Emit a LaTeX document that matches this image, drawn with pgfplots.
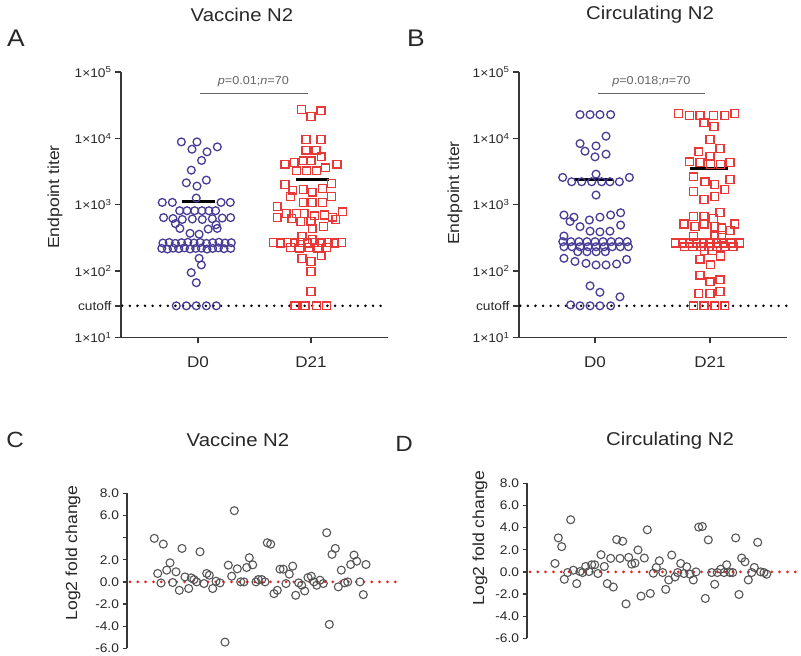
\documentclass[border=0pt]{standalone}
\usepackage{pgfplots}
\pgfplotsset{compat=1.18}
\usepackage{fontspec}
\setmainfont{Liberation Sans}[FakeStretch=1.1]
\definecolor{purp}{RGB}{70,60,150}
\definecolor{sqred}{RGB}{232,56,56}
\definecolor{axcol}{RGB}{55,55,55}
\definecolor{txtcol}{RGB}{40,40,40}
\definecolor{pgray}{RGB}{100,100,100}
\definecolor{cgray}{RGB}{85,85,85}
\definecolor{dotred}{RGB}{225,35,35}
\pgfplotsset{
 mytopax/.style={
   scale only axis, anchor=south west, clip=false,
   ymin=10, ymax=100000, height=265.5pt,
   axis x line*=bottom, axis y line*=left,
   axis line style={draw=axcol, line width=1.5pt},
   tick style={draw=axcol, line width=1.4pt},
   major tick length=6pt, tick align=outside,
   yminorticks=false, xminorticks=false,
   xtick={1,2}, xticklabels={D0,D21},
   ytick={10,30,100,1000,10000,100000},
   yticklabels={1×10\textsuperscript{1},cutoff,1×10\textsuperscript{2},1×10\textsuperscript{3},1×10\textsuperscript{4},1×10\textsuperscript{5}},
   yticklabel style={font=\fontsize{12.5}{14}\selectfont, text=txtcol},
   xticklabel style={font=\fontsize{15.5}{17}\selectfont, text=txtcol, yshift=-10pt},
 },
 mybotax/.style={
   scale only axis, anchor=south west, clip=false,
   ymin=-6, ymax=8, height=155pt,
   axis y line*=left, axis x line=none,
   axis line style={draw=axcol, line width=1.5pt},
   tick style={draw=axcol, line width=1.3pt},
   major tick length=4.5pt, tick align=outside,
   ytick={-6,-4,-2,0,2,4,6,8}, xtick=\empty,
   yticklabel style={font=\fontsize{12.5}{14}\selectfont, text=txtcol},
 },
 mycirc/.style={only marks, mark=o, mark size=3.9pt, mark options={draw=purp, line width=1.3pt}},
 mysq/.style={only marks, mark=square, mark size=3.9pt, mark options={draw=sqred, line width=1.3pt}},
 mygc/.style={only marks, mark=o, mark size=4pt, mark options={draw=cgray, line width=1.1pt}},
 mycutl/.style={black, line width=2.8pt, line cap=round, dash pattern=on 0pt off 7.6pt},
 myredl/.style={dotred, line width=3pt, line cap=round, dash pattern=on 0pt off 7.8pt},
 mymeanl/.style={black, line width=3pt},
}
\begin{document}
\begin{tikzpicture}
\path[use as bounding box] (0,0) rectangle (801pt,-656pt);
% titles and labels
\node[font=\fontsize{18.5}{20}\selectfont, text=txtcol] at (242pt,-15pt) {Vaccine N2};
\node[font=\fontsize{18.5}{20}\selectfont, text=txtcol] at (650pt,-15pt) {Circulating N2};
\node[font=\fontsize{24}{26}\selectfont, text=txtcol] at (16pt,-38pt) {A};
\node[font=\fontsize{24}{26}\selectfont, text=txtcol] at (416pt,-38pt) {B};
\node[rotate=90, font=\fontsize{16}{18}\selectfont, text=txtcol] at (55pt,-197pt) {Endpoint titer};
\node[rotate=90, font=\fontsize{16}{18}\selectfont, text=txtcol] at (455pt,-193pt) {Endpoint titer};
\node[font=\fontsize{18.5}{20}\selectfont, text=txtcol] at (238pt,-440pt) {Vaccine N2};
\node[font=\fontsize{18.5}{20}\selectfont, text=txtcol] at (670pt,-441pt) {Circulating N2};
\node[font=\fontsize{22}{24}\selectfont, text=txtcol] at (15pt,-440pt) {C};
\node[font=\fontsize{22}{24}\selectfont, text=txtcol] at (404pt,-444pt) {D};
\node[rotate=90, font=\fontsize{16}{18}\selectfont, text=txtcol] at (73pt,-553pt) {Log2 fold change};
\node[rotate=90, font=\fontsize{16}{18}\selectfont, text=txtcol] at (480pt,-538pt) {Log2 fold change};

% ---------------- Panel A
\begin{axis}[ymode=log, mytopax, at={(121pt,-337.5pt)}, width=267pt, xmin=0.319, xmax=2.681]
\addplot[mycutl] coordinates {(0.33,30) (2.681,30)};
\addplot[pgray, line width=1.2pt] coordinates {(1.02,47500) (1.97,47500)};
\node[font=\fontsize{11.5}{13}\selectfont, text=pgray] at (axis cs:1.49,71000) {\textit{p}=0.01;\textit{n}=70};
\addplot[mycirc] coordinates {
(0.853,8850) (0.991,8850) (0.947,6870) (1.080,6270) (1.171,7450) (1.032,4650) (0.941,3320) (0.897,2140) (0.991,1910) (1.074,2350) (0.985,1260)
(0.684,1085) (0.773,1085) (1.204,1085) (1.286,1085)
(0.838,813) (0.903,813) (0.971,813) (1.035,813) (1.097,813) (1.156,813)
(0.696,640) (0.779,620) (0.861,600) (0.950,610) (1.038,600) (1.127,615) (1.215,630) (1.289,640)
(0.80,520) (1.16,500) (0.84,440) (1.09,430) (1.17,440) (0.93,371) (1.01,360)
(0.69,265) (0.745,270) (0.80,262) (0.855,268) (0.91,272) (0.965,265) (1.02,270) (1.075,262) (1.13,268) (1.185,272) (1.24,265) (1.295,268)
(0.68,220) (0.73,215) (0.78,222) (0.83,218) (0.88,224) (0.93,216) (0.98,220) (1.03,222) (1.08,215) (1.13,220) (1.18,224) (1.23,218) (1.29,220)
(1.01,156) (1.03,124) (0.94,95) (0.985,67)
(0.808,30) (0.897,30) (0.985,30) (1.074,30) (1.162,30)
};
\addplot[mysq] coordinates {
(1.917,27200) (2.0,21500) (2.088,25900)
(1.956,9600) (2.088,9600)
(1.956,6640) (2.044,6640)
(1.77,4090) (1.85,4300) (1.93,4590) (2.0,4590) (2.09,5270) (2.23,4090)
(1.87,3240) (1.96,3240) (2.05,3240) (2.13,3600)
(1.77,2020) (2.18,2100)
(1.84,1660) (1.93,1700) (2.01,1550) (2.10,1750)
(2.18,1320) (1.82,1320)
(1.93,1085) (2.01,1085) (2.10,1085)
(1.70,933) (1.70,640) (1.78,740) (1.83,622) (1.87,740) (1.94,740) (2.03,680) (2.12,700) (2.19,650) (2.28,780) (2.22,600) (1.91,560) (2.0,560)
(2.01,440) (2.11,470) (1.92,331) (2.01,301)
(1.67,268) (1.73,265) (1.79,270) (1.85,266) (1.91,268) (1.97,265) (2.03,270) (2.09,266) (2.15,268) (2.21,265) (2.27,268)
(1.82,225) (1.90,222) (1.98,225) (2.06,222) (2.14,225)
(1.92,156) (2.0,139) (2.09,170) (2.0,98) (2.0,49)
(1.858,30) (1.947,30) (2.05,30) (2.139,30)
};
\addplot[mymeanl] coordinates {(0.86,1110) (1.15,1110)};
\addplot[mymeanl] coordinates {(1.87,2430) (2.16,2430)};
\end{axis}

% ---------------- Panel B
\begin{axis}[ymode=log, mytopax, at={(519pt,-337.5pt)}, width=268pt, xmin=0.339, xmax=2.67]
\addplot[mycutl] coordinates {(0.35,30) (2.67,30)};
\addplot[pgray, line width=1.2pt] coordinates {(1.03,47500) (1.96,47500)};
\node[font=\fontsize{11.5}{13}\selectfont, text=pgray] at (axis cs:1.49,71000) {\textit{p}=0.018;\textit{n}=70};
\addplot[mycirc] coordinates {
(0.870,22800) (0.957,22800) (1.043,22800) (1.136,22800)
(1.096,10800)
(0.870,8350) (1.009,7700) (0.913,6410) (1.096,5780) (1.0,5270)
(0.719,2580) (1.009,2890) (1.299,2580)
(0.797,2220) (0.884,2220) (0.971,2220) (1.058,2220) (1.130,2220) (1.212,2220)
(1.009,1400)
(0.730,700) (0.817,650) (0.951,589) (1.043,650) (1.136,700) (1.223,758) (0.783,560) (0.870,468) (1.223,494) (0.957,400) (1.043,390) (1.130,400)
(0.730,338)
(0.72,278) (0.79,278) (0.86,278) (0.93,278) (1.0,278) (1.07,278) (1.14,278) (1.21,278) (1.28,278)
(0.73,233) (0.80,233) (0.87,233) (0.94,233) (1.01,233) (1.08,233) (1.15,233) (1.22,233) (1.29,233)
(0.85,196) (0.93,196) (1.01,196) (1.09,196)
(0.730,156) (0.826,140) (0.922,131) (1.009,124) (1.096,124) (1.188,128) (1.275,150)
(0.957,60) (1.043,48) (1.217,41)
(0.788,31) (0.870,30) (0.957,30) (1.043,30) (1.136,30)
};
\addplot[mysq] coordinates {
(1.725,23600) (1.820,22300) (1.913,22300) (2.029,22300) (2.130,22300) (2.217,23600)
(1.948,17100) (2.035,15200)
(2.0,9600)
(2.087,7030) (1.904,6270) (2.0,5400)
(1.820,4440) (1.913,4300) (2.006,4050) (2.093,4050) (2.174,4300)
(1.855,2640) (1.957,2220) (2.043,2020) (2.174,2400)
(1.855,1570) (2.130,1700) (1.948,1200) (2.043,1320)
(2.087,767)
(1.855,661) (1.948,661) (2.029,620) (1.774,513) (1.870,468) (1.948,513) (2.043,468) (2.101,450) (2.217,513) (2.174,407)
(2.043,340) (1.855,335) (2.101,320)
(1.70,265) (1.76,265) (1.82,265) (1.88,265) (1.94,265) (2.0,265) (2.06,265) (2.12,265) (2.18,265) (2.26,265)
(1.78,232) (1.85,232) (1.92,232) (1.99,232) (2.06,232) (2.13,232) (2.20,232)
(1.95,205) (2.02,205)
(1.913,151) (2.093,169) (2.006,124)
(1.913,87) (2.0,69) (2.087,74)
(1.904,46) (2.0,46) (2.087,49)
(1.855,30) (1.948,30) (2.043,30) (2.130,30)
};
\addplot[mymeanl] coordinates {(0.82,2430) (1.16,2430)};
\addplot[mymeanl] coordinates {(1.83,3520) (2.16,3520)};
\end{axis}

% ---------------- Panel C
\begin{axis}[mybotax, at={(127pt,-648.3pt)}, width=273pt, xmin=127, xmax=400,
  yticklabels={-6.0,-4.0,-2.0,0.0,2.0,,6.0,8.0}]
\addplot[myredl] coordinates {(130,0) (400,0)};
\addplot[mygc] coordinates {
(154.3,3.93) (157.7,0.76) (161,-0.1) (163.3,3.41) (166.7,1.06) (170,1.72) (172.7,-0.06) (176,0.91) (179.3,-0.76) (182,3.02)
(185,0.45) (188.7,-0.6) (191.3,0.36) (194,0.21) (196.7,0) (200,2.72) (204,-0.15) (206.7,0.76) (209.3,0.6) (212.7,-0.6)
(216,0.06) (220,-0.09) (225,-5.44) (228.3,1.51) (231.7,0.51) (234.3,6.43) (237.3,1.18) (240.7,0) (244,0) (246.7,1.3)
(249.3,2.18) (252.7,1.54) (256,0) (258.3,0.21) (261.7,0.21) (265,0) (267.3,3.53) (270.7,3.41) (274,-1.06) (277.3,-0.76)
(280,1.15) (283.3,1.15) (286,-0.15) (289.3,0.7) (292.7,1.42) (295.7,-1.21) (298.7,-0.09) (301.7,-0.3) (304.7,-0.82) (308,0.39)
(311.3,0.51) (314,0) (316.7,-0.3) (320,0.15) (323.3,-0.15) (326.7,4.44) (329.3,-3.84) (332,2.48) (335.3,3.02) (338.3,-0.45)
(341.3,1.06) (344.7,-0.09) (347.7,0) (350.7,1.57) (354,2.42) (356.7,1.87) (360,0) (363.3,-1.15) (366,1.57)
};
\end{axis}

% ---------------- Panel D
\begin{axis}[mybotax, at={(527pt,-638.3pt)}, width=274pt, xmin=527, xmax=801,
  yticklabels={-6.0,-4.0,-2.0,0.0,2.0,4.0,6.0,8.0}]
\addplot[myredl] coordinates {(530,0) (801,0)};
\addplot[mygc] coordinates {
(555,0.76) (558.3,3.07) (561.7,2.28) (564.3,-0.67) (567.7,-0.06) (570.7,4.71) (573.3,0.15) (576.7,-1.06) (580,0.03) (582.7,-0.06)
(585.7,0.49) (589,0.03) (591.7,0.64) (594.7,0.64) (598,-0.15) (601,1.55) (604.3,0.49) (607.3,-1.06) (610.7,1.22) (613.3,-1.37)
(616.7,2.92) (620,1.22) (622.7,2.77) (626,-2.89) (628.7,1.31) (631.7,0.70) (635,0.79) (638,1.98) (641,-2.19) (644.3,1.25)
(647.3,3.8) (650.3,-1.95) (653.3,-0.12) (656.3,0.4) (659.3,1.0) (662.7,-0.06) (665.7,-1.58) (668.7,-0.73) (671.7,1.52) (675,-0.46)
(677.7,-0.06) (680.7,0.76) (684,-0.15) (686.7,0.46) (690,-0.21) (693.3,-0.73) (696,0) (698.7,4.04) (702.3,4.1) (705.3,-2.4)
(708.3,2.89) (711.7,-0.06) (714.7,-1.12) (717.3,-0.06) (720.7,0.24) (724,-0.06) (726.7,0.64) (730,-0.06) (732.7,-0.06) (735.7,3.07)
(739,-2.04) (741.7,1.25) (745,0.91) (748.3,-0.73) (751.7,-0.06) (754.3,0.4) (757.7,2.67) (760.7,0) (764,-0.06) (766.7,-0.21)
};
\end{axis}
\end{tikzpicture}
\end{document}
